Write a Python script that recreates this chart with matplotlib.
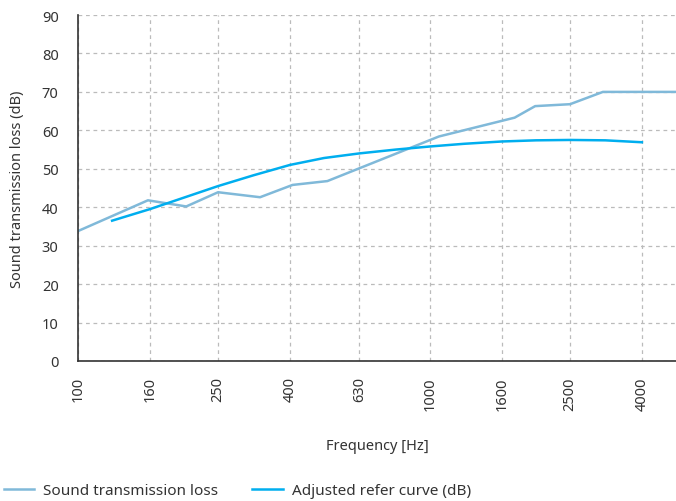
import matplotlib.pyplot as plt
import numpy as np

plt.rcParams['font.family'] = ['Noto Sans', 'DejaVu Sans']

# measured sound transmission loss (Hz, dB)
stl_freq = [100, 158, 203, 250, 329, 407, 511, 1060, 1740, 1990, 2500, 3100, 5000]
stl_db = [33.8, 41.8, 40.2, 43.9, 42.6, 45.8, 46.8, 58.4, 63.3, 66.3, 66.8, 70.0, 70.0]

# adjusted reference curve (1/3 octave bands)
ref_freq = [125, 160, 200, 250, 315, 400, 500, 630, 800, 1000, 1250, 1600, 2000, 2500, 3150, 4000]
ref_db = [36.5, 39.5, 42.5, 45.5, 48.3, 51.0, 52.8, 54.0, 55.0, 55.8, 56.5, 57.1, 57.4, 57.5, 57.4, 56.9]

tick_freq = [100, 160, 250, 400, 630, 1000, 1600, 2500, 4000]
y_ticks = list(range(0, 100, 10))

c_stl = '#80b9d9'
c_ref = '#00aeef'
c_text = '#333333'

fig = plt.figure(figsize=(6.76, 5.02), dpi=100)
ax = fig.add_axes([0.1154, 0.2789, 0.8846, 0.6892])

ax.plot(stl_freq, stl_db, color=c_stl, lw=1.8, label='Sound transmission loss')
ax.plot(ref_freq, ref_db, color=c_ref, lw=1.8, label='Adjusted refer curve (dB)')

ax.set_xscale('log')
ax.set_xlim(100, 5000)
ax.set_ylim(0, 90)
ax.set_xticks(tick_freq)
ax.set_xticklabels([str(f) for f in tick_freq], rotation=90)
ax.minorticks_off()
ax.set_yticks(y_ticks)

ax.tick_params(axis='both', length=0, labelsize=10.5, colors=c_text)
ax.tick_params(axis='y', pad=14)
ax.tick_params(axis='x', pad=11)

ax.grid(True, color='#bbbbbb', linestyle=(0, (3, 3)), lw=0.9)
ax.set_axisbelow(True)
for s in ['top', 'right']:
    ax.spines[s].set_visible(False)
for s in ['left', 'bottom']:
    ax.spines[s].set_color('#333333')
    ax.spines[s].set_linewidth(1.2)

ax.set_xlabel('Frequency [Hz]', fontsize=10.5, color=c_text, labelpad=20)
ax.set_ylabel('Sound transmission loss (dB)', fontsize=10.5, color=c_text, labelpad=12)

fig.legend(loc='lower left', bbox_to_anchor=(-0.015, -0.022), ncol=2, frameon=False,
           fontsize=11, handlelength=2.0, handletextpad=0.6, columnspacing=2.2,
           labelcolor=c_text)

fig.savefig('out.png', dpi=100)
